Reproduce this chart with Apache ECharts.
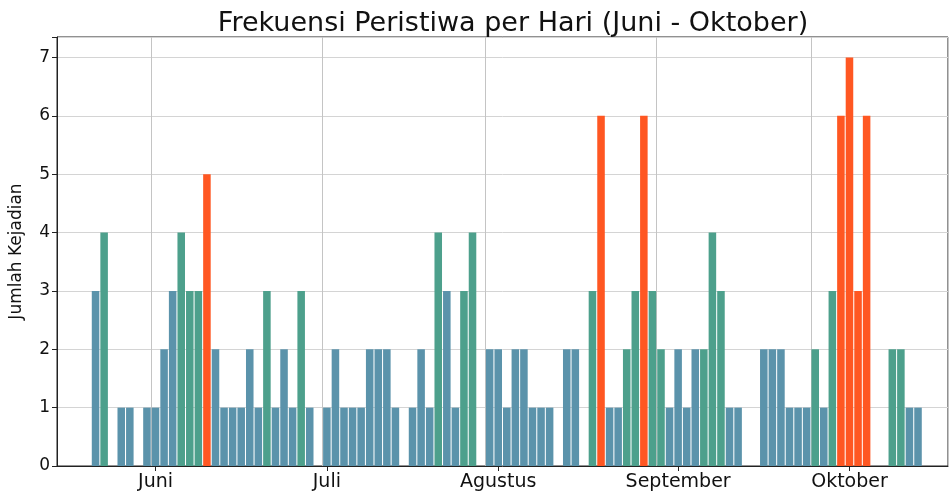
<!DOCTYPE html>
<html>
<head>
<meta charset="utf-8">
<script src="https://cdn.jsdelivr.net/npm/echarts@6/dist/echarts.min.js"></script>
<style>html,body{margin:0;padding:0;background:#fff}#c{width:950px;height:495px}</style>
</head>
<body>
<div id="c"></div>
<script>
// Jumlah kejadian per slot hari (0 = tidak ada kejadian)
const counts = [
  3,4,0,1,1,0,1,1,2,3,
  4,3,3,5,2,1,1,1,2,1,
  3,1,2,1,3,1,0,1,2,1,
  1,1,2,2,2,1,0,1,2,1,
  4,3,1,3,4,0,2,2,1,2,
  2,1,1,1,0,2,2,0,3,6,
  1,1,2,3,6,3,2,1,2,1,
  2,2,4,3,1,1,0,0,2,2,
  2,1,1,1,2,1,3,6,7,3,
  6,0,0,2,2,1,1
];
// Kelompok warna: r = rendah, s = sedang, t = tinggi
const levels = [
  'r','s','-','r','r','-','r','r','r','r',
  's','s','s','t','r','r','r','r','r','r',
  's','r','r','r','s','r','-','r','r','r',
  'r','r','r','r','r','r','-','r','r','r',
  's','r','r','s','s','-','r','r','r','r',
  'r','r','r','r','-','r','r','-','s','t',
  'r','r','s','s','t','s','s','r','r','r',
  'r','s','s','s','r','r','-','-','r','r',
  'r','r','r','r','s','r','s','t','t','t',
  't','-','-','s','s','r','r'
];
const monthLabels = ['Juni', 'Juli', 'Agustus', 'September', 'Oktober'];
const monthSlots = [8, 28, 48, 69, 89];      // slot (1-based) tempat label bulan
const gridSlots = [8, 28, 47, 67, 85];       // slot (1-based) tempat garis grid vertikal

const palette = { r: '#5b93ab', s: '#4da08c', t: '#ff5722' };
const PAD_L = 4, PAD_R = 3;

const cats = [];
const data = [];
for (let i = 0; i < PAD_L; i++) { cats.push('p' + i); data.push('-'); }
counts.forEach((v, i) => {
  cats.push('h' + (i + 1));
  data.push(v > 0 ? { value: v, itemStyle: { color: palette[levels[i]] } } : '-');
});
for (let i = 0; i < PAD_R; i++) { cats.push('q' + i); data.push('-'); }

const labelIdx = {};
monthSlots.forEach((s, k) => { labelIdx[PAD_L + s - 1] = monthLabels[k]; });
const gridIdx = new Set(gridSlots.map(s => PAD_L + s - 1));

const FONT = 'DejaVu Sans';
const chart = echarts.init(document.getElementById('c'), null, { renderer: 'canvas' });
chart.setOption({
  animation: false,
  backgroundColor: '#ffffff',
  title: {
    text: 'Frekuensi Peristiwa per Hari (Juni - Oktober)',
    left: 508, top: 5, textAlign: 'center',
    textStyle: { fontFamily: FONT, fontSize: 27, fontWeight: 'normal', color: '#111' }
  },
  grid: { left: 54, right: 2, top: 37, bottom: 29, show: true, borderColor: '#222', borderWidth: 1 },
  xAxis: {
    type: 'category',
    data: cats,
    boundaryGap: true,
    axisLine: { show: true, lineStyle: { color: '#222', width: 1 } },
    axisTick: {
      show: true, alignWithLabel: true, length: 5, lineStyle: { color: '#222' },
      interval: (idx) => labelIdx[idx] !== undefined
    },
    axisLabel: {
      interval: (idx) => labelIdx[idx] !== undefined,
      formatter: (v, idx) => labelIdx[idx] || '',
      fontFamily: FONT, fontSize: 19, color: '#111', margin: 7
    },
    splitLine: {
      show: true,
      interval: (idx) => gridIdx.has(idx),
      lineStyle: { color: '#c4c4c4', width: 1 }
    }
  },
  yAxis: {
    type: 'value',
    min: 0, max: 7.35, interval: 1,
    name: 'Jumlah Kejadian',
    nameLocation: 'middle',
    nameGap: 32,
    nameTextStyle: { fontFamily: FONT, fontSize: 17, color: '#111' },
    axisLine: { show: true, lineStyle: { color: '#222', width: 1 } },
    axisTick: { show: true, length: 5, lineStyle: { color: '#222' } },
    axisLabel: {
      fontFamily: FONT, fontSize: 17, color: '#111', margin: 7,
      formatter: (v) => Number.isInteger(v) ? String(v) : ''
    },
    splitLine: { show: true, lineStyle: { color: '#d4d4d4', width: 1 } }
  },
  series: [{
    type: 'bar',
    data: data,
    barCategoryGap: '12%'
  }]
});
</script>
</body>
</html>
